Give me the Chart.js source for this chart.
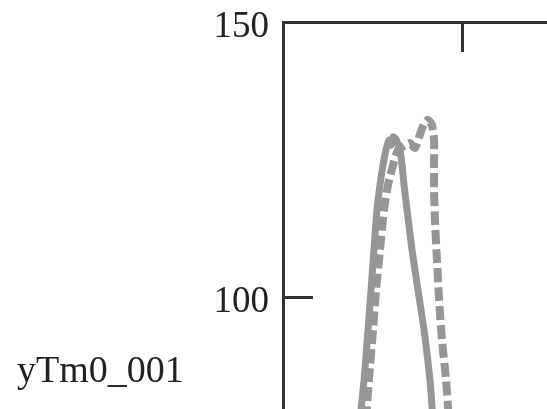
<!DOCTYPE html>
<html>
<head>
<meta charset="utf-8">
<script src="https://cdn.jsdelivr.net/npm/chart.js@4.4.0/dist/chart.umd.min.js"></script>
<style>
    html, body { margin: 0; padding: 0; background: #fff; overflow: hidden; }
    #wrap { width: 547px; height: 409px; }
</style>
</head>
<body>
<div id="wrap"><canvas id="plot" width="547" height="409"></canvas></div>
<script>
// Data (x in plot units, y in yTm0_001 units)
const solidX = [4.30, 4.53, 4.75, 4.92, 5.08, 5.25, 5.42, 5.59, 5.75, 5.92, 6.04, 6.15, 6.28, 6.37, 6.54, 6.65, 6.76, 6.93, 7.21, 7.54, 7.88, 8.21, 8.38];
const solidY = [77.6, 84.9, 94.0, 101.3, 108.5, 115.8, 120.4, 124.0, 126.7, 128.5, 127.6, 129.1, 128.8, 128.2, 126.7, 124.0, 120.4, 115.8, 108.5, 101.3, 94.0, 84.9, 77.6];

const dashX = [4.64, 4.80, 5.03, 5.20, 5.42, 5.64, 5.87, 6.15, 6.42, 6.76, 7.09, 7.37, 7.65, 7.88, 8.10, 8.32, 8.44, 8.44, 8.44, 8.49, 8.60, 8.72, 8.88, 9.11, 9.27];
const dashY = [77.6, 84.9, 94.0, 101.3, 108.5, 115.8, 120.4, 124.0, 126.7, 127.5, 128.0, 127.1, 129.5, 131.5, 132.2, 131.3, 128.5, 124.9, 119.5, 114.0, 106.7, 99.5, 92.2, 84.9, 77.6];

const yTicks = [100, 150];
const xTicks = [10];
const yLabel = 'yTm0_001';

const toPoints = (xs, ys) => xs.map((x, i) => ({ x: x, y: ys[i] }));

const axisColor = '#333333';
const curveColor = '#969696';
const textFont = '"Liberation Serif", "Times New Roman", serif';

// inward tick marks, tick labels and horizontal y label, Mathcad style
const mathcadBits = {
    id: 'mathcadBits',
    afterDraw(chart) {
        const ctx = chart.ctx;
        const area = chart.chartArea;
        const xs = chart.scales.x;
        const ys = chart.scales.y;
        ctx.save();
        ctx.strokeStyle = axisColor;
        ctx.lineWidth = 3;
        yTicks.forEach(v => {
            const py = Math.round(ys.getPixelForValue(v)) + 0.5;
            ctx.beginPath();
            ctx.moveTo(area.left, py);
            ctx.lineTo(area.left + 30, py);
            ctx.stroke();
        });
        xTicks.forEach(v => {
            const px = Math.round(xs.getPixelForValue(v)) + 0.5;
            ctx.beginPath();
            ctx.moveTo(px, area.top);
            ctx.lineTo(px, area.top + 30);
            ctx.stroke();
        });
        ctx.fillStyle = '#222222';
        ctx.font = '37px ' + textFont;
        ctx.textAlign = 'right';
        ctx.textBaseline = 'middle';
        yTicks.forEach(v => {
            ctx.fillText(String(v), area.left - 14, ys.getPixelForValue(v) + 5);
        });
        ctx.font = '38px ' + textFont;
        ctx.textAlign = 'left';
        ctx.textBaseline = 'alphabetic';
        ctx.fillText(yLabel, 17, 382);
        ctx.restore();
    }
};

window.addEventListener('load', () => {
    const ctx = document.getElementById('plot').getContext('2d');
    new Chart(ctx, {
        type: 'line',
        data: {
            datasets: [{
                label: 'solid',
                data: toPoints(solidX, solidY),
                borderColor: curveColor,
                borderWidth: 7,
                pointRadius: 0,
                tension: 0.2,
                fill: false
            }, {
                label: 'dashed',
                data: toPoints(dashX, dashY),
                borderColor: curveColor,
                borderWidth: 8,
                borderDash: [14, 5],
                pointRadius: 0,
                tension: 0.2,
                fill: false
            }]
        },
        options: {
            responsive: false,
            animation: false,
            layout: { padding: 0 },
            plugins: {
                legend: { display: false },
                tooltip: { enabled: false }
            },
            scales: {
                x: {
                    type: 'linear',
                    position: 'top',
                    min: 0,
                    max: 14.75,
                    ticks: { display: false },
                    grid: { drawOnChartArea: false, drawTicks: false },
                    border: { display: true, color: axisColor, width: 3 },
                    afterFit: (scale) => { scale.height = 22; }
                },
                y: {
                    type: 'linear',
                    min: 79.6,
                    max: 150,
                    afterBuildTicks: (scale) => {
                        scale.ticks = yTicks.map(v => ({ value: v }));
                    },
                    ticks: { display: false },
                    grid: { drawOnChartArea: false, drawTicks: false },
                    border: { display: true, color: axisColor, width: 3 },
                    afterFit: (scale) => { scale.width = 283; }
                }
            }
        },
        plugins: [mathcadBits]
    });
});
</script>
</body>
</html>
